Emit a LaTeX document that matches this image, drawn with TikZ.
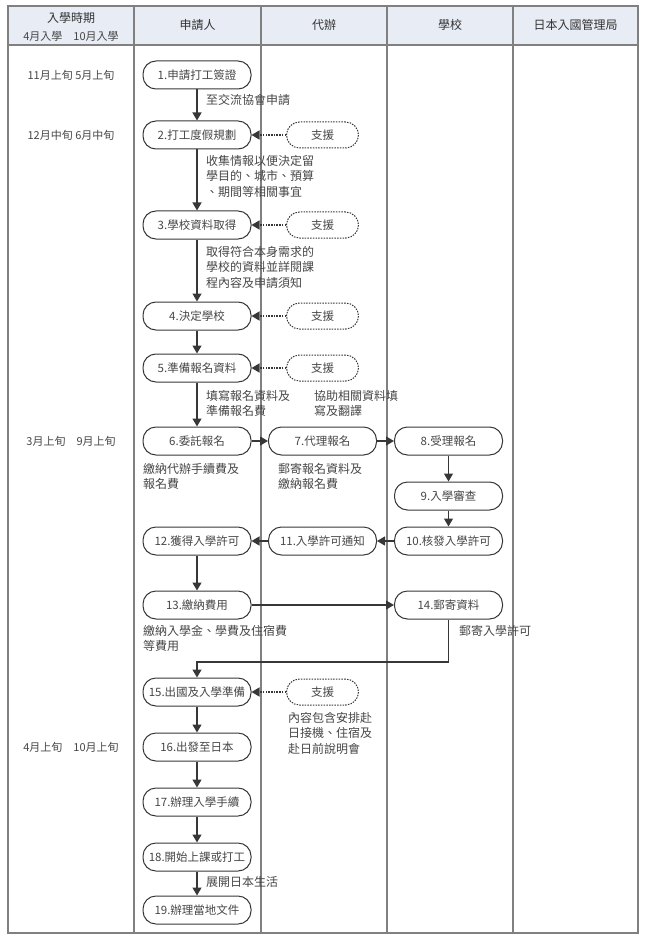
\documentclass[tikz,border=0pt]{standalone}
\usepackage{fontspec}
\setmainfont{Noto Sans CJK TC}
\usetikzlibrary{arrows.meta,positioning,calc}
\definecolor{framegray}{RGB}{128,128,128}
\definecolor{headfill}{RGB}{232,236,245}
\definecolor{flowdark}{RGB}{55,55,55}
\definecolor{textgray}{RGB}{70,70,70}

\tikzset{
  stepnode/.style={draw=flowdark, line width=1pt, rounded corners=13pt, minimum width=108pt,
    minimum height=28pt, inner sep=1pt, text=textgray, font=\fontsize{11.5}{13}\selectfont},
  helpnode/.style={stepnode, dash pattern=on 1.5pt off 1.2pt, minimum width=72pt, minimum height=26pt},
  flow/.style={draw=flowdark, line width=1.3pt, -{Triangle[length=8pt,width=9pt]}},
  helpflow/.style={flow, dash pattern=on 1.5pt off 1.2pt},
  note/.style={anchor=north west, align=left, inner sep=0pt, text=textgray,
    font=\fontsize{12}{15.5}\selectfont},
  timenote/.style={text=textgray, font=\fontsize{11}{13}\selectfont},
  headnote/.style={text=black!80, font=\fontsize{12}{14}\selectfont}
}

\begin{document}
\begin{tikzpicture}[x=1pt, y=-1pt]
  \useasboundingbox (0,0) rectangle (647,941);
  % frame and lanes
  \fill[headfill] (8,6) rectangle (638,45);
  \draw[framegray, line width=1.6pt] (8,6) rectangle (638,933);
  \draw[framegray, line width=1.6pt] (8,45) -- (638,45);
  \foreach \xx in {134,261,387,513}
    \draw[framegray, line width=1.6pt] (\xx,6) -- (\xx,933);

  % header
  \node[headnote] (headtime) at (71,18) {入學時期};
  \node[timenote] (headmonth) at (71,36) {4月入學　10月入學};
  \node[headnote] (headapp) at (197.5,25) {申請人};
  \node[headnote] (headagent) at (324,25) {代辦};
  \node[headnote] (headschool) at (450,25) {學校};
  \node[headnote] (headimm) at (575.5,25) {日本入國管理局};

  % time column
  \node[timenote] (time1) at (71,75) {11月上旬 5月上旬};
  \node[timenote] (time2) at (71,135) {12月中旬 6月中旬};
  \node[timenote] (time3) at (71,441) {3月上旬　9月上旬};
  \node[timenote] (time4) at (71,747) {4月上旬　10月上旬};

  % applicant steps
  \node[stepnode] (s1) at (197,75) {1.申請打工簽證};
  \node[stepnode] (s2) at (197,135) {2.打工度假規劃};
  \node[stepnode] (s3) at (197,225) {3.學校資料取得};
  \node[stepnode] (s4) at (197,316) {4.決定學校};
  \node[stepnode] (s5) at (197,368) {5.準備報名資料};
  \node[stepnode] (s6) at (197,441) {6.委託報名};
  \node[stepnode] (s7) at (322.5,441) {7.代理報名};
  \node[stepnode] (s8) at (448.5,441) {8.受理報名};
  \node[stepnode] (s9) at (448.5,496) {9.入學審查};
  \node[stepnode] (s10) at (448.5,541) {10.核發入學許可};
  \node[stepnode] (s11) at (322.5,541) {11.入學許可通知};
  \node[stepnode] (s12) at (197,541) {12.獲得入學許可};
  \node[stepnode] (s13) at (197,605) {13.繳納費用};
  \node[stepnode] (s14) at (448.5,605) {14.郵寄資料};
  \node[stepnode] (s15) at (197,692) {15.出國及入學準備};
  \node[stepnode] (s16) at (197,747) {16.出發至日本};
  \node[stepnode] (s17) at (197,802) {17.辦理入學手續};
  \node[stepnode] (s18) at (197,857) {18.開始上課或打工};
  \node[stepnode] (s19) at (197,910) {19.辦理當地文件};

  % support boxes
  \node[helpnode] (h2) at (322.5,135) {支援};
  \node[helpnode] (h3) at (322.5,225) {支援};
  \node[helpnode] (h4) at (322.5,316) {支援};
  \node[helpnode] (h5) at (322.5,368) {支援};
  \node[helpnode] (h15) at (322.5,692) {支援};

  % connectors
  \foreach \a/\b in {s1/s2,s2/s3,s3/s4,s4/s5,s5/s6,s12/s13,s15/s16,s16/s17,s17/s18,s18/s19,s8/s9,s9/s10}
    \draw[flow] (\a) -- (\b);
  \draw[flow] (s6) -- (s7);
  \draw[flow] (s7) -- (s8);
  \draw[flow] (s10) -- (s11);
  \draw[flow] (s11) -- (s12);
  \draw[flow] (s13) -- (s14);
  \coordinate (turn) at (448.5,662);
  \draw[flow] (s14) -- (turn) -| (s15);
  \foreach \h/\s in {h2/s2,h3/s3,h4/s4,h5/s5,h15/s15}
    \draw[helpflow] (\h) -- (\s);

  % notes
  \node[note] (n1) at (206,94) {至交流協會申請};
  \node[note] (n2) at (206,155) {收集情報以便決定留\\學目的、城市、預算\\、期間等相關事宜};
  \node[note] (n3) at (206,246) {取得符合本身需求的\\學校的資料並詳閱課\\程內容及申請須知};
  \node[note] (n5) at (206,390) {填寫報名資料及\\準備報名費};
  \node[note] (n5b) at (314,390) {協助相關資料填\\寫及翻譯};
  \node[note] (n6) at (143,463) {繳納代辦手續費及\\報名費};
  \node[note] (n7) at (278,463) {郵寄報名資料及\\繳納報名費};
  \node[note] (n13) at (143,625) {繳納入學金、學費及住宿費\\等費用};
  \node[note] (n14) at (459,625) {郵寄入學許可};
  \node[note] (n15) at (288,712) {內容包含安排赴\\日接機、住宿及\\赴日前說明會};
  \node[note] (n18) at (206,876) {展開日本生活};
\end{tikzpicture}
\end{document}
